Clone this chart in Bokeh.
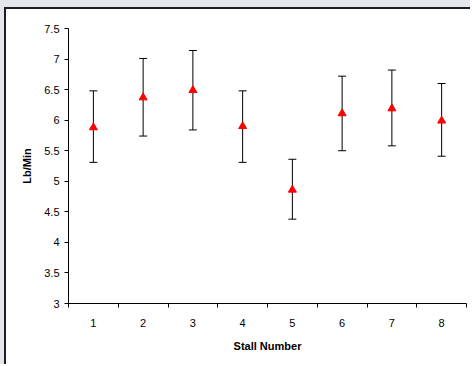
from bokeh.plotting import figure
from bokeh.models import (ColumnDataSource, Whisker, TeeHead, FixedTicker, Range1d,
                          NumeralTickFormatter)
from bokeh.embed import file_html
from bokeh.resources import INLINE

stalls = [1, 2, 3, 4, 5, 6, 7, 8]
means = [5.88, 6.37, 6.49, 5.90, 4.86, 6.11, 6.19, 5.99]
upper = [6.48, 7.01, 7.14, 6.48, 5.36, 6.72, 6.82, 6.60]
lower = [5.31, 5.74, 5.84, 5.31, 4.38, 5.50, 5.58, 5.41]
y_ticks = [3, 3.5, 4, 4.5, 5, 5.5, 6, 6.5, 7, 7.5]
x_boundaries = [0.5, 1.5, 2.5, 3.5, 4.5, 5.5, 6.5, 7.5, 8.5]

src = ColumnDataSource(dict(x=stalls, mean=means, upper=upper, lower=lower))

FONT = "Liberation Sans"

p = figure(frame_width=398, frame_height=275,
           min_border_left=64, min_border_right=4, min_border_top=21, min_border_bottom=61,
           x_range=Range1d(0.5, 8.5), y_range=Range1d(3, 7.5),
           output_backend="svg", toolbar_location=None)
# grey surround with a dark edge along the left and top of the white chart panel
p.styles = {"border-left": "4px solid #e3e7ec", "border-top": "7px solid #e3e7ec",
            "background-color": "white", "box-shadow": "inset 2px 2px 0 0 #1e1e1e"}
p.background_fill_color = "white"
p.border_fill_alpha = 0
p.outline_line_color = None
p.xgrid.grid_line_color = None
p.ygrid.grid_line_color = None

w = Whisker(source=src, base="x", upper="upper", lower="lower",
            line_color="black", line_width=1,
            upper_head=TeeHead(size=8, line_color="black", line_width=1),
            lower_head=TeeHead(size=8, line_color="black", line_width=1))
p.add_layout(w)
p.scatter("x", "mean", source=src, marker="triangle", size=8,
          fill_color="red", line_color="red")

xa = p.xaxis[0]
xa.ticker = FixedTicker(ticks=stalls, minor_ticks=x_boundaries)
xa.major_tick_out = 0
xa.major_tick_in = 0
xa.minor_tick_out = 4
xa.minor_tick_in = 0
xa.minor_tick_line_color = "black"
xa.axis_line_color = "black"
xa.major_label_standoff = 11
xa.axis_label = "Stall Number"
xa.axis_label_standoff = 10

ya = p.yaxis[0]
ya.ticker = FixedTicker(ticks=y_ticks, minor_ticks=[])
ya.formatter = NumeralTickFormatter(format="0.[0]")
ya.major_tick_out = 4
ya.major_tick_in = 0
ya.major_tick_line_color = "black"
ya.axis_line_color = "black"
ya.major_label_standoff = 5
ya.axis_label = "Lb/Min"
ya.axis_label_standoff = 8

for ax in (xa, ya):
    ax.major_label_text_font = FONT
    ax.major_label_text_font_size = "11px"
    ax.major_label_text_color = "black"
    ax.axis_label_text_font = FONT
    ax.axis_label_text_font_size = "11px"
    ax.axis_label_text_font_style = "bold"
    ax.axis_label_text_color = "black"

open("out.html", "w").write(file_html(p, INLINE))
